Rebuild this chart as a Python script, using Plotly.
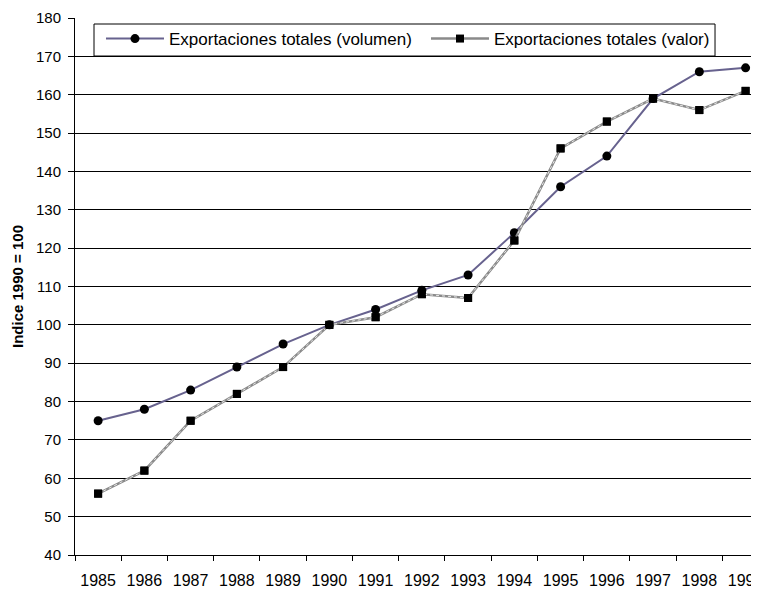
import plotly.graph_objects as go

anios = ['1985', '1986', '1987', '1988', '1989', '1990', '1991', '1992',
         '1993', '1994', '1995', '1996', '1997', '1998', '1999']
volumen = [75, 78, 83, 89, 95, 100, 104, 109, 113, 124, 136, 144, 159, 166, 167]
valor = [56, 62, 75, 82, 89, 100, 102, 108, 107, 122, 146, 153, 159, 156, 161]

fuente = 'Liberation Sans, Arial, sans-serif'

fig = go.Figure()
fig.add_trace(go.Scatter(x=anios, y=volumen, mode='lines+markers',
                         name='Exportaciones totales (volumen)',
                         line=dict(color='#67628E', width=2),
                         marker=dict(symbol='circle', size=9, color='black')))
fig.add_trace(go.Scatter(x=anios, y=valor, mode='lines+markers',
                         name='Exportaciones totales (valor)',
                         line=dict(color='#8a8a8a', width=2.5),
                         marker=dict(symbol='square', size=8, color='black')))
# trama punteada sobre la linea de valor
fig.add_trace(go.Scatter(x=anios, y=valor, mode='lines', showlegend=False,
                         hoverinfo='skip',
                         line=dict(color='#e8e8e8', width=1, dash='dot')))
# marcadores encima de la trama
fig.add_trace(go.Scatter(x=anios, y=valor, mode='markers', showlegend=False,
                         hoverinfo='skip',
                         marker=dict(symbol='square', size=8, color='black')))

# caja de la leyenda
fig.add_shape(type='rect', xref='paper', yref='paper',
              x0=0.0278, x1=0.9357, y0=0.9292, y1=0.9888,
              line=dict(color='black', width=1), fillcolor='white',
              layer='above')

# la pagina tiene un margen de 8px en el body: figura de 751x581
fig.update_layout(
    width=751, height=581,
    margin=dict(l=67, r=0, t=10, b=34),
    plot_bgcolor='white', paper_bgcolor='white',
    font=dict(family=fuente, size=15, color='black'),
    showlegend=True,
    legend=dict(orientation='h', x=0.038, y=0.9944, xanchor='left', yanchor='top',
                bgcolor='rgba(0,0,0,0)', borderwidth=0,
                font=dict(size=17), itemwidth=58, entrywidth=252),
    xaxis=dict(type='category', range=[-0.5, 14.29], showgrid=False,
               showline=True, linecolor='black', linewidth=1,
               ticks='outside', tickson='boundaries', ticklen=5,
               tickcolor='black', tickfont=dict(size=16),
               ticklabelstandoff=11, automargin=False),
    yaxis=dict(range=[40, 180], dtick=10, showgrid=True, gridcolor='black',
               gridwidth=1, showline=True, linecolor='black', linewidth=1,
               ticks='outside', ticklen=6, tickcolor='black',
               tickfont=dict(size=15), zeroline=False, ticklabelstandoff=4,
               automargin=False,
               title=dict(text='<b>Indice 1990 = 100</b>', font=dict(size=15),
                          standoff=8)),
)

fig.write_html("out.html")
